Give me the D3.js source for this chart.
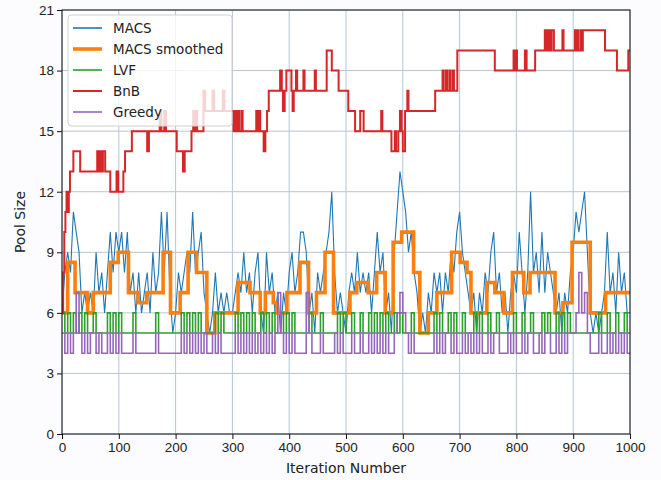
<!DOCTYPE html>
<html>
<head>
<meta charset="utf-8">
<script src="https://cdn.jsdelivr.net/npm/d3@7"></script>
<style>
  body { margin: 0; background: #fcfcfe; }
  svg { display: block; font-family: "DejaVu Sans", sans-serif; }
  .tick text { font-size: 13.5px; fill: #222; }
</style>
</head>
<body>
<div id="plot"></div>
<script>
// values sampled every 5 iterations (slot i starts at iteration i*5)
var slotStep = 5;

var macs = [
  6,8,9,8,11,10,9,6,7,6,7,6,9,7,8,6,8,10,8,10,
  9,10,8,10,7,8,6,8,6,7,8,6,9,7,8,11,8,11,7,5,
  6,8,7,8,9,8,11,8,9,10,7,6,5,6,8,6,7,6,7,6,
  6,7,8,7,9,7,8,6,8,9,6,5,9,7,8,6,7,5,7,6,
  8,9,7,8,10,10,9,6,7,5,8,7,8,9,10,12,8,6,7,6,
  5,7,8,7,9,7,8,7,8,6,8,10,8,9,6,7,5,9,11,13,
  12,11,9,10,8,7,5,6,5,7,6,8,7,8,6,8,7,9,8,10,
  11,9,8,7,6,7,5,7,6,8,7,9,10,7,8,6,7,5,7,8,
  7,10,8,6,8,12,8,9,7,10,7,9,8,7,6,7,5,7,6,8,
  9,11,10,11,12,9,6,5,6,5,6,7,10,7,8,6,9,7,8,6
];

var lvf = [
  6,5,6,5,6,5,6,5,6,5,5,6,5,5,5,5,6,5,6,5,
  6,5,5,5,5,6,5,5,5,5,5,5,5,6,5,5,5,5,5,5,
  5,5,6,5,6,5,6,5,6,5,5,5,5,5,6,5,6,5,5,5,
  5,6,5,6,5,6,5,6,5,5,6,5,6,5,6,5,5,6,5,6,
  5,6,5,5,5,5,5,6,5,5,5,6,5,5,5,5,5,6,5,6,
  5,5,6,5,5,6,5,5,6,5,6,5,6,5,6,5,5,6,5,6,
  5,5,5,6,5,5,5,5,5,5,5,6,5,6,5,5,6,5,6,5,
  5,6,5,5,5,6,5,6,5,5,6,5,5,6,5,5,5,5,5,6,
  5,5,6,5,5,6,5,5,5,6,5,6,5,5,6,5,6,5,6,5,
  5,5,5,5,5,5,5,5,5,6,5,5,6,5,5,6,5,5,6,5
];

var greedy = [
  5,4,5,4,5,7,5,4,5,4,5,5,4,5,4,4,5,4,5,4,
  5,4,4,4,4,5,4,4,4,4,4,4,4,5,4,4,4,4,4,4,
  4,4,5,4,5,4,5,4,5,4,5,4,4,5,4,5,4,4,4,4,
  4,5,4,5,4,5,4,5,4,5,4,5,4,5,4,5,7,5,4,5,
  4,5,4,4,4,4,7,5,4,4,4,5,4,4,4,4,5,4,5,4,
  4,4,5,4,4,5,4,4,5,4,5,4,5,4,5,4,4,5,6,7,
  6,5,4,5,4,4,4,4,4,4,4,5,4,5,4,5,5,4,5,4,
  4,5,4,5,4,5,4,5,4,4,5,4,5,5,4,4,4,5,4,5,
  4,4,5,4,5,5,4,4,5,4,5,5,4,4,5,4,5,4,5,5,
  5,6,8,6,7,5,4,4,4,5,4,4,5,4,5,4,5,4,5,4
];

// change points: value holds from this iteration until the next one
var smoothIter = [0,10,23,45,55,85,99,117,134,149,178,191,208,222,237,255,269,310,331,349,358,372,378,396,419,434,448,463,478,507,519,539,554,569,583,598,619,630,645,660,686,701,713,720,748,762,778,793,813,824,868,882,898,930,957,1000];
var smoothSize = [6,8.5,7,6,7,8.5,9,7,6.5,7,9,6,7,9,8,5,6,7.5,7,6,7,6.5,6,7,8.5,6,7,9,6,7,7.5,7,8,6,9.5,10,8,5,6,7,9,8.5,8,6,7.5,7,6,8,7,8,6,6.5,9.5,6,7,7];

var bnbIter = [0,2,4,6,8,10,12,14,20,32,62,65,67,70,72,76,85,96,99,108,111,123,150,153,172,175,180,183,202,213,216,228,231,234,236,238,249,252,265,268,283,286,302,305,307,310,312,316,318,342,344,346,349,355,358,361,364,384,387,389,392,395,404,406,408,412,414,425,427,445,447,466,475,487,504,516,525,531,562,564,580,586,588,592,595,598,600,604,608,610,657,670,672,676,678,682,684,688,690,696,762,795,797,799,801,815,818,833,850,852,854,856,858,860,862,866,881,883,903,905,907,909,913,915,917,956,977,997,1000];
var bnbSize = [6,8,10,11,12,11,12,13,14,13,14,13,14,13,14,13,12,13,12,13,14,15,14,15,16,15,16,15,14,13,14,15,16,15,16,15,17,16,17,16,17,16,15,16,15,16,15,16,15,16,15,16,15,14,15,16,17,18,17,16,17,18,17,16,17,18,17,18,17,18,17,19,18,17,16,15,16,15,16,15,14,15,14,15,16,15,14,16,17,16,17,18,17,18,17,18,17,18,17,19,18,19,18,19,18,19,18,19,20,19,20,19,20,19,20,19,20,19,20,19,20,19,20,19,20,19,18,19,19];

var xTicks = [0,100,200,300,400,500,600,700,800,900,1000];
var yTicks = [0,3,6,9,12,15,18,21];

var seriesNames = ["MACS","MACS smoothed","LVF","BnB","Greedy"];
var seriesColors = ["#1f77b4","#ff7f0e","#2ca02c","#d62728","#9467bd"];
var seriesWidths = [1.1,3.6,1.6,2,1.6];

var W = 661, H = 480;
var margin = {t:10, r:31, b:46, l:62};
var width = W - margin.l - margin.r,
    height = H - margin.t - margin.b;

var svg = d3.select('#plot')
    .append('svg')
    .attr('width', W)
    .attr('height', H);

var x = d3.scaleLinear().domain([0,1000]).range([margin.l, margin.l + width]);
var y = d3.scaleLinear().domain([0,21]).range([margin.t + height, margin.t]);

svg.append('rect')
    .attr('x', margin.l).attr('y', margin.t)
    .attr('width', width).attr('height', height)
    .attr('fill', '#fff');

svg.append('clipPath').attr('id','clip')
    .append('rect')
    .attr('x', margin.l).attr('y', margin.t)
    .attr('width', width).attr('height', height);

// grid
var grid = svg.append('g').attr('class','grid');
grid.selectAll('.vg').data(xTicks).enter()
    .append('line')
    .attr('x1', function(d){ return x(d); })
    .attr('x2', function(d){ return x(d); })
    .attr('y1', margin.t).attr('y2', margin.t + height)
    .attr('stroke', '#b3c7d9').attr('stroke-width', 1);
grid.selectAll('.hg').data(yTicks).enter()
    .append('line')
    .attr('y1', function(d){ return y(d); })
    .attr('y2', function(d){ return y(d); })
    .attr('x1', margin.l).attr('x2', margin.l + width)
    .attr('stroke', '#b8c4d2').attr('stroke-width', 1);

function fromSlots(vals) {
    var pts = vals.map(function(v,i){ return [i*slotStep, v]; });
    pts.push([1000, vals[vals.length-1]]);
    return pts;
}
function fromChanges(xs, ys) {
    return xs.map(function(v,i){ return [v, ys[i]]; });
}

var stepLine = d3.line()
    .x(function(d){ return x(d[0]); })
    .y(function(d){ return y(d[1]); })
    .curve(d3.curveStepAfter);
var plainLine = d3.line()
    .x(function(d){ return x(d[0]); })
    .y(function(d){ return y(d[1]); });

var series = [
    {pts: fromSlots(macs), line: plainLine},
    {pts: fromChanges(smoothIter, smoothSize), line: stepLine},
    {pts: fromSlots(lvf), line: stepLine},
    {pts: fromChanges(bnbIter, bnbSize), line: stepLine},
    {pts: fromSlots(greedy), line: stepLine}
];

var lines = svg.append('g').attr('clip-path','url(#clip)');
series.forEach(function(s,i){
    lines.append('path')
        .attr('d', s.line(s.pts))
        .attr('fill','none')
        .attr('stroke', seriesColors[i])
        .attr('stroke-width', seriesWidths[i])
        .attr('stroke-linejoin','miter');
});

// frame
svg.append('rect')
    .attr('x', margin.l).attr('y', margin.t)
    .attr('width', width).attr('height', height)
    .attr('fill','none').attr('stroke','#111').attr('stroke-width',1);

svg.append('g')
    .attr('transform','translate(0,' + (margin.t + height) + ')')
    .call(d3.axisBottom(x).tickValues(xTicks).tickFormat(d3.format('d')).tickSize(5).tickPadding(3))
    .call(function(g){ g.select('.domain').remove(); });

svg.append('g')
    .attr('transform','translate(' + margin.l + ',0)')
    .call(d3.axisLeft(y).tickValues(yTicks).tickSize(5).tickPadding(3))
    .call(function(g){ g.select('.domain').remove(); });

svg.selectAll('.tick line').attr('stroke','#111');

svg.append('text')
    .attr('x', margin.l + width/2).attr('y', 473)
    .attr('text-anchor','middle')
    .attr('font-size', 14).attr('fill','#222')
    .text('Iteration Number');

svg.append('text')
    .attr('transform','translate(25,' + (margin.t + height/2) + ') rotate(-90)')
    .attr('text-anchor','middle')
    .attr('font-size', 14).attr('fill','#222')
    .text('Pool Size');

// legend
var legend = svg.append('g').attr('transform','translate(68,15)');
legend.append('rect')
    .attr('width', 164).attr('height', 111)
    .attr('rx', 3)
    .attr('fill','#fff').attr('fill-opacity',0.8)
    .attr('stroke','#d0d0d0');
var items = legend.selectAll('.item').data(seriesNames).enter()
    .append('g')
    .attr('transform', function(d,i){ return 'translate(0,' + (13 + i*21) + ')'; });
items.append('line')
    .attr('x1', 5).attr('x2', 34)
    .attr('stroke', function(d,i){ return seriesColors[i]; })
    .attr('stroke-width', function(d,i){ return seriesWidths[i] < 2 ? 1.6 : seriesWidths[i]; });
items.append('text')
    .attr('x', 45).attr('dy','0.35em')
    .attr('font-size', 13.5).attr('fill','#222')
    .text(function(d){ return d; });
</script>
</body>
</html>
